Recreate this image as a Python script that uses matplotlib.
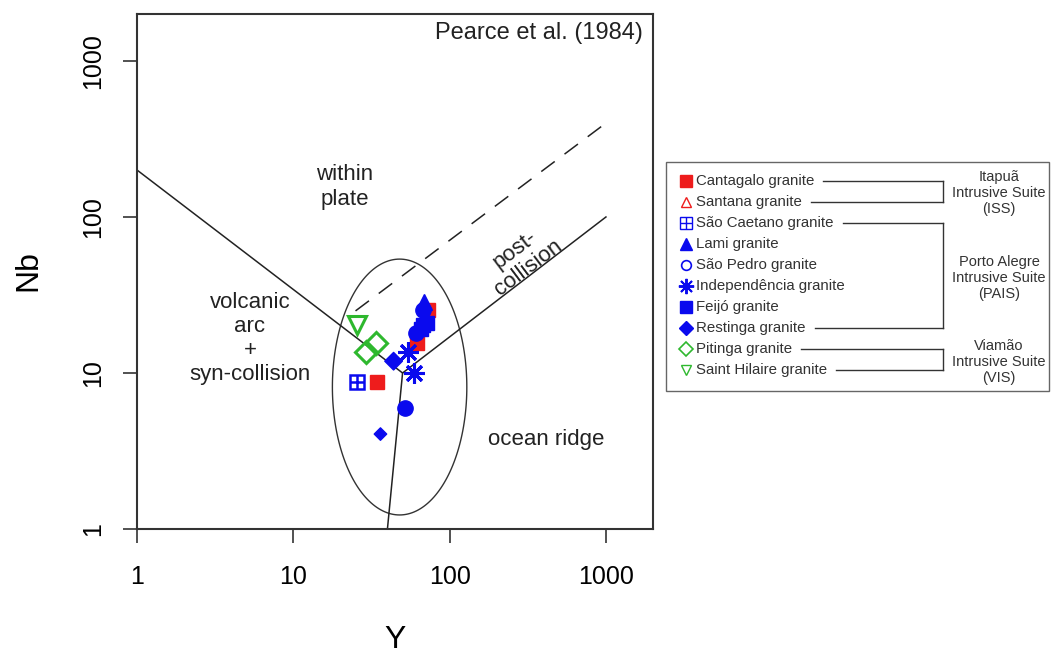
import numpy as np
import matplotlib.pyplot as plt
from matplotlib.patches import Rectangle, Polygon

plt.rcParams['font.family'] = ['Liberation Sans', 'DejaVu Sans']

# sample data (Y, Nb)
cantagalo_y = [34.5, 61.4, 73.0]
cantagalo_nb = [8.75, 15.6, 25.3]
sao_caetano_y = [25.7]
sao_caetano_nb = [8.75]
lami_y = [69.0]
lami_nb = [28.5]
sao_pedro_y = [51.5, 60.5, 68.0]
sao_pedro_nb = [5.97, 18.0, 25.5]
independencia_y = [53.8, 58.8]
independencia_nb = [13.6, 10.0]
feijo_y = [66.0, 68.0, 72.0]
feijo_nb = [19.0, 20.3, 21.0]
restinga_y = [43.8, 36.1]
restinga_nb = [11.9, 4.06]
pitinga_y = [33.6, 29.0]
pitinga_nb = [15.6, 13.6]
saint_hilaire_y = [25.7]
saint_hilaire_nb = [20.3]

# Pearce et al. (1984) field boundaries
wpg_y, wpg_nb = [1, 50], [200, 10]
org_y, org_nb = [40, 50, 1000], [1, 10, 100]
post_y, post_nb = [25, 1000], [25, 400]

legend_names = ["Cantagalo granite", "Santana granite", "São Caetano granite",
                "Lami granite", "São Pedro granite", "Independência granite",
                "Feijó granite", "Restinga granite", "Pitinga granite",
                "Saint Hilaire granite"]
suite_names = ["Itapuã\nIntrusive Suite\n(ISS)",
               "Porto Alegre\nIntrusive Suite\n(PAIS)",
               "Viamão\nIntrusive Suite\n(VIS)"]

RED = '#ee1c1c'
BLUE = '#0a0aee'
GREEN = '#2eb82e'
ASTER = (8, 2, 0)

fig = plt.figure(figsize=(10.54, 6.55), dpi=100)
ax = fig.add_axes([137/1054, 1 - 529/655, 516/1054, 515/655])
ax.set_xscale('log')
ax.set_yscale('log')
ax.set_xlim(1, 2000)
ax.set_ylim(1, 2000)

ax.plot(wpg_y, wpg_nb, color='#222', lw=1.1)
ax.plot(org_y, org_nb, color='#222', lw=1.1)
ax.plot(post_y, post_nb, color='#222', lw=1.1, dashes=(11, 8))

# post-collision field outline (ellipse in log space)
t = np.linspace(0, 2*np.pi, 200, endpoint=False)
ex = 10 ** (1.68 + 0.43*np.cos(t))
ey = 10 ** (0.91 + 0.82*np.sin(t))
ax.add_patch(Polygon(np.column_stack([ex, ey]), closed=True, fill=False, ec='#333', lw=1.0))

ax.plot(saint_hilaire_y, saint_hilaire_nb, 'v', ms=13, mfc='none', mec=GREEN, mew=2.2, ls='none')
ax.plot(pitinga_y, pitinga_nb, 'D', ms=11, mfc='none', mec=GREEN, mew=2.2, ls='none')
ax.plot(cantagalo_y, cantagalo_nb, 's', ms=9.5, color=RED, ls='none')
ax.plot(sao_caetano_y, sao_caetano_nb, 's', ms=9.5, mfc='none', mec=BLUE, mew=1.8, ls='none')
ax.plot(sao_caetano_y, sao_caetano_nb, '+', ms=9.5, mec=BLUE, mew=1.8, ls='none')
ax.scatter(restinga_y, restinga_nb, marker='D', s=[80, 40], color=BLUE, zorder=3)
ax.plot(independencia_y, independencia_nb, marker=ASTER, ms=15, mec=BLUE, mew=2.2, ls='none')
ax.plot(feijo_y, feijo_nb, 's', ms=10, color=BLUE, ls='none')
ax.plot(sao_pedro_y, sao_pedro_nb, 'o', ms=11, color=BLUE, ls='none')
ax.plot(lami_y, lami_nb, '^', ms=11, color=BLUE, ls='none')

ticks = [1, 10, 100, 1000]
ax.set_xticks(ticks)
ax.set_xticklabels([str(v) for v in ticks])
ax.set_yticks(ticks)
ax.set_yticklabels([str(v) for v in ticks], rotation=90, va='center')
ax.minorticks_off()
ax.tick_params(direction='out', length=10, width=1.1, labelsize=18, color='#222')
ax.tick_params(axis='x', pad=16)
ax.tick_params(axis='y', pad=13)
for s in ax.spines.values():
    s.set_linewidth(1.5)
    s.set_color('#333')

ax.text(0.403, 0.664, "within\nplate", transform=ax.transAxes, ha='center', va='center',
        fontsize=16, linespacing=1.2, color='#222')
ax.text(0.219, 0.37, "volcanic\narc\n+\nsyn-collision", transform=ax.transAxes, ha='center',
        va='center', fontsize=16, linespacing=1.2, color='#222')
ax.text(0.793, 0.173, "ocean ridge", transform=ax.transAxes, ha='center', va='center',
        fontsize=16, color='#222')
ax.text(0.745, 0.525, "post-\ncollision", transform=ax.transAxes, ha='center', va='center',
        fontsize=16, rotation=37, rotation_mode='anchor', linespacing=1.1, color='#222')
ax.text(0.981, 0.963, "Pearce et al. (1984)", transform=ax.transAxes, ha='right', va='center',
        fontsize=17, color='#222')

fig.text(395/1054, 1 - 640/655, "Y", ha='center', va='center', fontsize=23)
fig.text(28/1054, 1 - 271/655, "Nb", ha='center', va='center', fontsize=23, rotation=90)

# legend drawn in pixel coordinates
lg = fig.add_axes([0, 0, 1, 1], zorder=5)
lg.set_xlim(0, 1054)
lg.set_ylim(655, 0)
lg.axis('off')
lg.add_patch(Rectangle((666, 162), 383, 229, fill=False, ec='#666', lw=1.0))

rows = [181 + 21*i for i in range(10)]
mx = 686
styles = [
    dict(marker='s', ms=8, mfc=RED, mec=RED),
    dict(marker='^', ms=7, mfc='none', mec=RED, mew=1),
    dict(marker='s', ms=8, mfc='none', mec=BLUE, mew=1),
    dict(marker='^', ms=8, mfc=BLUE, mec=BLUE),
    dict(marker='o', ms=7, mfc='none', mec=BLUE, mew=1.2),
    dict(marker=ASTER, ms=11, mec=BLUE, mew=1.4),
    dict(marker='s', ms=8, mfc=BLUE, mec=BLUE),
    dict(marker='D', ms=7, mfc=BLUE, mec=BLUE),
    dict(marker='D', ms=7, mfc='none', mec=GREEN, mew=1.2),
    dict(marker='v', ms=7, mfc='none', mec=GREEN, mew=1),
]
texts = []
for name, y, st in zip(legend_names, rows, styles):
    lg.plot([mx], [y], ls='none', **st)
    texts.append(lg.text(696, y, name, ha='left', va='center', fontsize=10.8, color='#333'))
lg.plot([mx], [rows[2]], marker='+', ms=8, mec=BLUE, mew=1, ls='none')

fig.canvas.draw()
inv = lg.transData.inverted()
ends = []
for tx in texts:
    bb = tx.get_window_extent()
    ends.append(inv.transform((bb.x1, bb.y0))[0] + 9)

bx = 943
groups = [(0, 1), (2, 7), (8, 9)]
label_y = [193, 278, 362]
for (a, b), name, ly in zip(groups, suite_names, label_y):
    for i in (a, b):
        lg.plot([ends[i], bx], [rows[i], rows[i]], color='#333', lw=1.0)
    lg.plot([bx, bx], [rows[a], rows[b]], color='#333', lw=1.0)
    lg.text(999, ly, name, ha='center', va='center', fontsize=10.5, color='#333', linespacing=1.2)

fig.savefig("out.png", dpi=100)
